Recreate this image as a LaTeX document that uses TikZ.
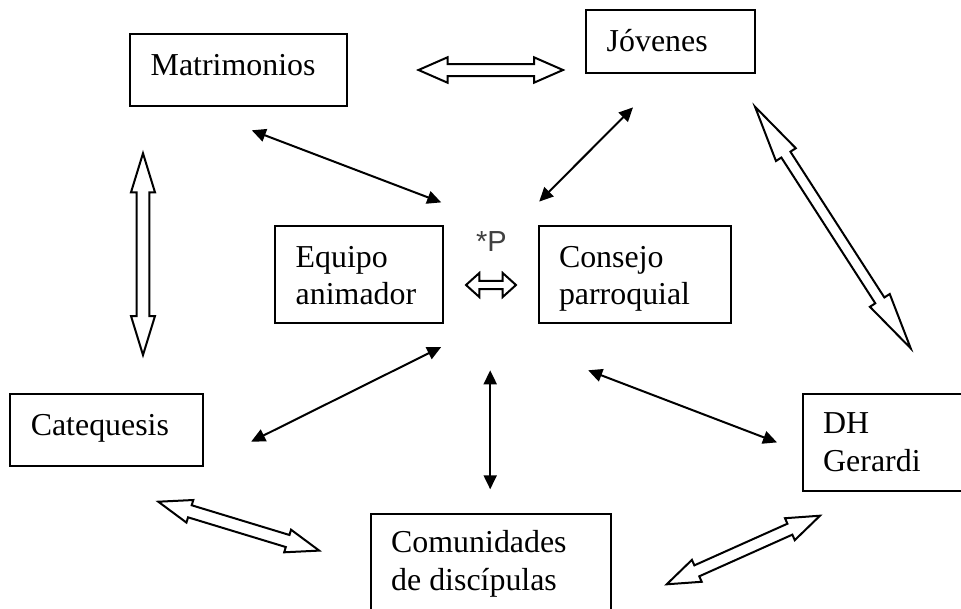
\documentclass[tikz,border=0pt]{standalone}
\usepackage{fontspec}
\setmainfont{Liberation Serif}
\newfontfamily\sansP{Liberation Sans}
\usetikzlibrary{calc,arrows.meta}
\definecolor{pgray}{RGB}{64,64,64}
\tikzset{
  box/.style={draw, line width=2pt, inner sep=0pt, outer sep=0pt, anchor=north west},
  lbl/.style={inner sep=0pt, anchor=base west, font=\fontsize{31.9pt}{37pt}\selectfont},
  biarrow/.style={line width=2pt, {Triangle[length=14pt,width=13pt]}-{Triangle[length=14pt,width=13pt]}},
  blockarrow/.style={draw, line width=2pt, fill=white, line join=miter}
}
% #1 start, #2 end, #3 shaft half width, #4 head half width, #5 head length
\newcommand{\hollowarrow}[5]{%
  \coordinate (ha-P) at ($(#1)!#5!(#2)$);
  \coordinate (ha-Q) at ($(#2)!#5!(#1)$);
  \draw[blockarrow] (#1)
    -- ($(ha-P)!#4!90:(#2)$) -- ($(ha-P)!#3!90:(#2)$)
    -- ($(ha-Q)!#3!-90:(#1)$) -- ($(ha-Q)!#4!-90:(#1)$)
    -- (#2)
    -- ($(ha-Q)!#4!90:(#1)$) -- ($(ha-Q)!#3!90:(#1)$)
    -- ($(ha-P)!#3!-90:(#2)$) -- ($(ha-P)!#4!-90:(#2)$)
    -- cycle;
}
\begin{document}
\begin{tikzpicture}[x=1pt,y=-1pt]
\useasboundingbox (0,0) rectangle (961,608);
\clip (0,0) rectangle (961,608);

% boxes
\node[box, minimum width=217pt, minimum height=72pt] (mat) at (130,34) {};
\node[box, minimum width=169pt, minimum height=63pt] (jov) at (586,10) {};
\node[box, minimum width=168pt, minimum height=96.6pt] (equ) at (274.5,226) {};
\node[box, minimum width=192pt, minimum height=96.6pt] (con) at (538.6,226) {};
\node[box, minimum width=192.4pt, minimum height=71.7pt] (cat) at (10.4,394.3) {};
\node[box, minimum width=200pt, minimum height=96.2pt] (dh) at (802.7,394.3) {};
\node[box, minimum width=240.2pt, minimum height=120pt] (com) at (370.7,514) {};

% texts
\node[lbl] (mat-t) at ($(mat.north west)+(20.5,41.5)$) {Matrimonios};
\node[lbl] (jov-t) at ($(jov.north west)+(20.5,41.2)$) {Jóvenes};
\node[lbl] (equ-t1) at ($(equ.north west)+(21,41)$) {Equipo};
\node[lbl] (equ-t2) at ($(equ.north west)+(21,78)$) {animador};
\node[lbl] (con-t1) at ($(con.north west)+(20.2,41)$) {Consejo};
\node[lbl] (con-t2) at ($(con.north west)+(20.2,78)$) {parroquial};
\node[lbl] (cat-t) at ($(cat.north west)+(20.2,40.7)$) {Catequesis};
\node[lbl] (dh-t1) at ($(dh.north west)+(20.3,38.7)$) {DH};
\node[lbl] (dh-t2) at ($(dh.north west)+(20.3,76.7)$) {Gerardi};
\node[lbl] (com-t1) at ($(com.north west)+(20.3,38.5)$) {Comunidades};
\node[lbl] (com-t2) at ($(com.north west)+(20.3,76.5)$) {de discípulas};
\node[inner sep=0pt, anchor=base west, text=pgray, font=\sansP\fontsize{29pt}{32pt}\selectfont] (p) at (476,251.5) {*P};

% thin double-headed arrows
\coordinate (b1a) at (251.8,130.3); \coordinate (b1b) at (441.2,202.4);
\coordinate (b2a) at (633,107.4);   \coordinate (b2b) at (539.2,201.6);
\coordinate (b3a) at (251.2,441.6); \coordinate (b3b) at (441.2,347);
\coordinate (b4a) at (490.2,370.3); \coordinate (b4b) at (490.2,489.3);
\coordinate (b5a) at (588.2,370.3); \coordinate (b5b) at (777,442.4);
\draw[biarrow] (b1a) -- (b1b);
\draw[biarrow] (b2a) -- (b2b);
\draw[biarrow] (b3a) -- (b3b);
\draw[biarrow] (b4a) -- (b4b);
\draw[biarrow] (b5a) -- (b5b);

% hollow block arrows
\coordinate (hAa) at (418.5,70);   \coordinate (hAb) at (563,70);
\coordinate (hBa) at (143,153.3);  \coordinate (hBb) at (143,355);
\coordinate (hCa) at (755,106.7);  \coordinate (hCb) at (910.7,348.3);
\coordinate (hDa) at (158.3,501.7); \coordinate (hDb) at (319.2,550.6);
\coordinate (hEa) at (666.7,584.3); \coordinate (hEb) at (820,515.7);
\coordinate (hFa) at (466,285);    \coordinate (hFb) at (516,285);
\hollowarrow{hAa}{hAb}{6pt}{12.7pt}{29pt}
\hollowarrow{hBa}{hBb}{6.3pt}{12pt}{39pt}
\hollowarrow{hCa}{hCb}{5.4pt}{11.8pt}{57pt}
\hollowarrow{hDa}{hDb}{6.3pt}{11.8pt}{33pt}
\hollowarrow{hEa}{hEb}{6pt}{12pt}{33pt}
\hollowarrow{hFa}{hFb}{4.2pt}{12pt}{13.3pt}
\end{tikzpicture}
\end{document}
